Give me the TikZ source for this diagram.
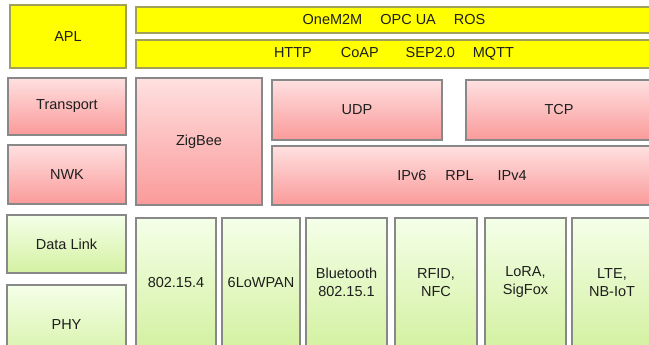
\documentclass[tikz,border=0pt]{standalone}
\usepackage{fontspec}
\setmainfont{Liberation Sans}
\usetikzlibrary{shadows}
\definecolor{ylw}{HTML}{FFFF00}
\definecolor{ylwedge}{HTML}{A0A058}
\definecolor{pinktop}{HTML}{FFE0E0}
\definecolor{pinkbot}{HTML}{FA9A9A}
\definecolor{greentop}{HTML}{F4FFE8}
\definecolor{greenbot}{HTML}{D4F1A2}
\definecolor{edgegray}{HTML}{888888}
\definecolor{txt}{HTML}{1E1E1E}
\tikzset{
  layerbase/.style={rectangle, inner sep=0pt, line width=1.2pt, text=txt, align=center,
    font=\fontsize{14.5}{18}\selectfont,
    drop shadow={shadow xshift=0.8pt, shadow yshift=-1.2pt, opacity=0.35, fill=black!70}},
  ylwbox/.style={layerbase, draw=ylwedge, fill=ylw},
  pinkbox/.style={layerbase, draw=edgegray, top color=pinktop, bottom color=pinkbot},
  greenbox/.style={layerbase, draw=edgegray, top color=greentop, bottom color=greenbot},
}
% \layerbox{name}{style}{x1}{y1}{x2}{y2}{text}
\newcommand{\layerbox}[7]{%
  \node[#2, minimum width={(#5-#3)*1pt}, minimum height={(#6-#4)*1pt}]
    (#1) at ({(#3+#5)/2},{(#4+#6)/2}) {#7};}
\newcommand{\gapA}{\hspace{18pt}}
\begin{document}
\begin{tikzpicture}[x=1pt,y=-1pt]
\useasboundingbox (0,0) rectangle (649,345);
\fill[white] (0,0) rectangle (649,345);
\clip (0,0) rectangle (649,345);
% application layer
\layerbox{apl}{ylwbox}{10}{5}{126}{68}{APL}
\layerbox{apps}{ylwbox}{136}{7}{652}{33}{OneM2M\gapA OPC UA\gapA ROS}
\layerbox{msg}{ylwbox}{136}{40}{652}{68}{HTTP\hspace{29pt}CoAP\hspace{27pt}SEP2.0\gapA MQTT}
% transport and network layers
\layerbox{transport}{pinkbox}{8}{78}{126}{135}{Transport}
\layerbox{nwk}{pinkbox}{8}{145}{126}{204}{NWK}
\layerbox{zigbee}{pinkbox}{136}{78}{262}{205}{ZigBee}
\layerbox{udp}{pinkbox}{272}{80}{442}{140}{UDP}
\layerbox{tcp}{pinkbox}{466}{80}{652}{140}{TCP}
\layerbox{ip}{pinkbox}{272}{146}{652}{205}{IPv6\hspace{19pt}RPL\hspace{24pt}IPv4}
% data link and physical layers
\layerbox{datalink}{greenbox}{7}{215}{126}{273}{Data Link}
\layerbox{phy}{greenbox}{7}{285}{126}{365}{PHY}
\layerbox{ieee}{greenbox}{136}{218}{216}{347}{802.15.4}
\layerbox{lowpan}{greenbox}{222}{218}{300}{347}{6LoWPAN}
\layerbox{bt}{greenbox}{306}{218}{387}{347}{Bluetooth\\802.15.1}
\layerbox{rfid}{greenbox}{395}{218}{477}{347}{RFID,\\NFC}
\layerbox{lora}{greenbox}{485}{218}{566}{347}{LoRA,\\SigFox}
\layerbox{lte}{greenbox}{572}{218}{652}{347}{LTE,\\NB-IoT}
\end{tikzpicture}
\end{document}
